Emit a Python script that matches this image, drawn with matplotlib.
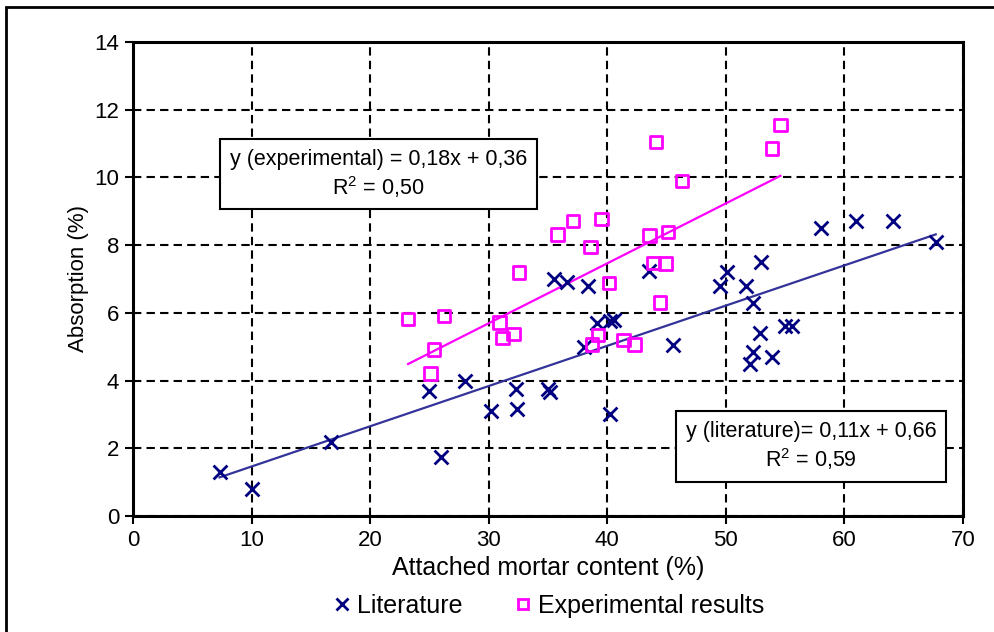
import numpy as np
import matplotlib
matplotlib.use("Agg")
import matplotlib.pyplot as plt
from matplotlib.lines import Line2D
from matplotlib.patches import Rectangle

plt.rcParams["font.family"] = ["Liberation Sans", "DejaVu Sans"]
plt.rcParams["mathtext.default"] = "regular"

# literature data (attached mortar %, absorption %)
lit_x = [7.3, 10.0, 16.7, 25.0, 28.0, 26.0, 30.2, 32.3, 32.4, 35.0, 35.2,
         35.5, 36.6, 38.4, 38.0, 39.1, 40.2, 40.6, 40.2, 43.5, 45.5, 49.5,
         50.1, 51.7, 52.3, 53.0, 52.9, 52.3, 52.0, 53.9, 55.0, 55.6, 58.0,
         61.0, 64.1, 67.7]
lit_y = [1.3, 0.8, 2.2, 3.7, 4.0, 1.75, 3.1, 3.75, 3.15, 3.75, 3.65,
         7.0, 6.9, 6.8, 5.0, 5.7, 5.75, 5.8, 3.0, 7.25, 5.05, 6.8,
         7.2, 6.8, 6.3, 7.5, 5.4, 4.85, 4.5, 4.7, 5.6, 5.6, 8.5,
         8.7, 8.7, 8.1]

# experimental results
exp_x = [23.2, 26.25, 25.4, 25.1, 30.9, 31.15, 32.1, 32.55, 35.8, 37.1,
         39.5, 38.6, 40.15, 39.2, 38.7, 41.35, 42.3, 43.55, 45.1, 43.9,
         44.9, 44.45, 44.1, 46.3, 53.9, 54.6]
exp_y = [5.82, 5.9, 4.92, 4.21, 5.72, 5.25, 5.37, 7.19, 8.32, 8.71,
         8.77, 7.95, 6.89, 5.35, 5.07, 5.2, 5.07, 8.29, 8.38, 7.48,
         7.46, 6.3, 11.05, 9.9, 10.86, 11.55]

lit_label = "y (literature)= 0,11x + 0,66\nR$^2$ = 0,59"
exp_label = "y (experimental) = 0,18x + 0,36\nR$^2$ = 0,50"

navy = "#000080"
magenta = "#ff00ff"

fig = plt.figure(figsize=(9.94, 6.32), dpi=100)
ax = fig.add_axes([133 / 994, 1 - 516 / 632, 830 / 994, 474 / 632])

# outer frame
fig.patches.append(Rectangle((6 / 994, -0.05), 1.1, 1 - 7 / 632 + 0.05,
                             transform=fig.transFigure, fill=False,
                             edgecolor="black", linewidth=2, zorder=0))

ax.scatter(lit_x, lit_y, marker="x", s=100, color=navy, linewidths=2, zorder=3)
ax.scatter(exp_x, exp_y, marker="s", s=80, facecolors="none",
           edgecolors=magenta, linewidths=2, zorder=3)

# trend lines
for xs, ys, col in [(lit_x, lit_y, "#33339a"), (exp_x, exp_y, magenta)]:
    k, b = np.polyfit(xs, ys, 1)
    xx = np.array([min(xs), max(xs)])
    ax.plot(xx, k * xx + b, color=col, linewidth=1.6, zorder=2)

ax.set_xlim(0, 70)
ax.set_ylim(0, 14)
ax.set_xticks(range(0, 71, 10))
ax.set_yticks(range(0, 15, 2))
ax.grid(True, color="black", linestyle=(0, (4, 2.5)), linewidth=1.5)
ax.set_axisbelow(True)
for s in ax.spines.values():
    s.set_linewidth(2.2)
ax.tick_params(labelsize=16, length=6, width=1.5, pad=4)
ax.set_xlabel("Attached mortar content (%)", fontsize=18, labelpad=4)
ax.set_ylabel("Absorption (%)", fontsize=16, labelpad=4)

box = dict(boxstyle="square,pad=0.45", facecolor="white", edgecolor="black", linewidth=1.5)
ax.text(20.7, 10.1, exp_label, fontsize=15.5, ha="center", va="center",
        multialignment="center", bbox=box, zorder=4)
ax.text(57.2, 2.05, lit_label, fontsize=15.5, ha="center", va="center",
        multialignment="center", bbox=box, zorder=4)

handles = [Line2D([], [], marker="x", color=navy, linestyle="none", markersize=8, markeredgewidth=2),
           Line2D([], [], marker="s", color=magenta, markerfacecolor="none", linestyle="none",
                  markersize=7, markeredgewidth=2)]
fig.legend(handles, ["Literature", "Experimental results"], loc="center",
           bbox_to_anchor=(547 / 994, 1 - 606 / 632), ncol=2, frameon=False,
           fontsize=18, handletextpad=0.1, columnspacing=1.9, handlelength=1.0)

fig.savefig("out.png", dpi=100)
